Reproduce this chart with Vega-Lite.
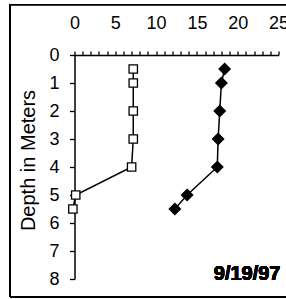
{
  "$schema": "https://vega.github.io/schema/vega-lite/v6.json",
  "width": 204,
  "height": 224,
  "autosize": "none",
  "padding": {"left": 74.5, "top": 55, "right": 7.5, "bottom": 20},
  "background": "white",
  "config": {
    "view": {"stroke": null},
    "font": "Liberation Sans",
    "axis": {
      "domainColor": "black",
      "domainWidth": 1.5,
      "tickColor": "black",
      "tickWidth": 1.3,
      "labelFont": "Liberation Sans",
      "labelFontSize": 18,
      "labelColor": "black",
      "titleFont": "Liberation Sans",
      "titleFontSize": 20,
      "titleFontWeight": "normal",
      "titleColor": "black",
      "grid": false,
      "labelOverlap": false,
      "labelFlush": false
    }
  },
  "data": {
    "values": [
      {"series": "A", "depth": 0.5, "value": 7.2},
      {"series": "A", "depth": 1, "value": 7.2},
      {"series": "A", "depth": 2, "value": 7.2},
      {"series": "A", "depth": 3, "value": 7.2},
      {"series": "A", "depth": 4, "value": 7.0},
      {"series": "A", "depth": 5, "value": 0.15},
      {"series": "A", "depth": 5.5, "value": -0.2},
      {"series": "B", "depth": 0.5, "value": 18.4},
      {"series": "B", "depth": 1, "value": 18.0},
      {"series": "B", "depth": 2, "value": 17.8},
      {"series": "B", "depth": 3, "value": 17.6},
      {"series": "B", "depth": 4, "value": 17.5},
      {"series": "B", "depth": 5, "value": 13.8},
      {"series": "B", "depth": 5.5, "value": 12.3}
    ]
  },
  "encoding": {
    "x": {
      "field": "value",
      "type": "quantitative",
      "scale": {"domain": [0, 25], "nice": false, "zero": false},
      "axis": {
        "orient": "top",
        "title": null,
        "values": [0,1,2,3,4,5,6,7,8,9,10,11,12,13,14,15,16,17,18,19,20,21,22,23,24,25],
        "labelExpr": "datum.value % 5 === 0 ? datum.label : ''",
        "tickSize": 4,
        "labelPadding": 19,
        "encode": {"ticks": {"update": {"y2": {"value": 4}}}}
      }
    },
    "y": {
      "field": "depth",
      "type": "quantitative",
      "scale": {"domain": [0, 8], "reverse": true, "nice": false, "zero": false},
      "axis": {
        "orient": "left",
        "title": "Depth in Meters",
        "values": [0,1,2,3,4,5,6,7,8],
        "tickSize": 5,
        "labelPadding": 10.5,
        "titlePadding": 10,
        "titleY": 105,
        "encode": {"ticks": {"update": {"x2": {"value": 5}}}}
      }
    }
  },
  "layer": [
    {
      "mark": {"type": "rect", "fill": null, "stroke": "black", "strokeWidth": 1},
      "encoding": {
        "x": {"datum": -7.9},
        "x2": {"datum": 28},
        "y": {"datum": -1.8},
        "y2": {"datum": 8.64}
      }
    },
    {
      "mark": {"type": "line", "color": "black", "strokeWidth": 1.5},
      "encoding": {
        "detail": {"field": "series", "type": "nominal"},
        "order": {"field": "depth", "type": "quantitative"}
      }
    },
    {
      "mark": {"type": "point", "filled": true, "stroke": "black", "strokeWidth": 1.3, "opacity": 1},
      "encoding": {
        "shape": {"field": "series", "type": "nominal", "scale": {"domain": ["A", "B"], "range": ["square", "diamond"]}, "legend": null},
        "fill": {"field": "series", "type": "nominal", "scale": {"domain": ["A", "B"], "range": ["white", "black"]}, "legend": null},
        "size": {"field": "series", "type": "nominal", "scale": {"domain": ["A", "B"], "range": [70, 125]}, "legend": null}
      }
    },
    {
      "mark": {"type": "text", "text": "9/19/97", "align": "right", "baseline": "alphabetic", "fontSize": 20, "fontWeight": "bold", "font": "Liberation Sans", "dx": 2, "dy": 1, "color": "black"},
      "encoding": {
        "x": {"datum": 25},
        "y": {"datum": 8}
      }
    }
  ]
}
